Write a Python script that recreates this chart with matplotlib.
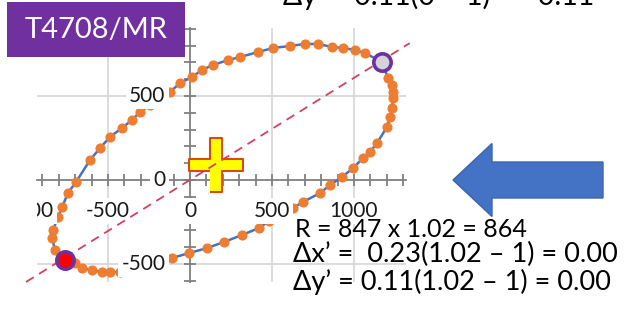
import matplotlib
matplotlib.use("Agg")
import matplotlib.pyplot as plt
from matplotlib.ticker import MultipleLocator
from matplotlib.patches import FancyArrow, Rectangle

plt.rcParams['font.family'] = ['Lato', 'DejaVu Sans']

# orbit points, clockwise from the lower-left extreme
orbit_x = [-762, -823, -841, -835, -805, -780, -744, -695, -610, -549, -488, -415,
           -354, -305, -244, -183, -122, -61, 12, 73, 140, 232, 305, 415, 506, 610,
           701, 780, 866, 933, 1006, 1067, 1171, 1207, 1232, 1238, 1238, 1232, 1220,
           1201, 1140, 1098, 1055, 994, 927, 854, 793, 689, 628, 555, 482, 420, 317,
           207, 104, -6, -110, -213, -317, -427, -488, -537, -598, -659, -701, -762]
orbit_y = [-476, -417, -345, -298, -220, -161, -77, -12, 119, 190, 256, 310,
           357, 405, 446, 482, 524, 577, 613, 655, 685, 714, 732, 762, 786, 798,
           810, 810, 792, 786, 774, 756, 702, 607, 565, 524, 488, 429, 375,
           315, 220, 167, 131, 71, 18, -30, -77, -131, -167, -202, -244, -286, -327,
           -369, -405, -435, -464, -488, -518, -548, -548, -548, -536, -524, -494, -476]

# extremes of the long axis
near_x, near_y = -762, -476
far_x, far_y = 1171, 702

# centre mark
centre_x, centre_y = 159, 92

# long-axis guide line
diag_x = [-1000, 1340]
diag_y = [-607, 815]

xtick_vals = [-1000, -500, 0, 500, 1000]
ytick_vals = [-500, 0, 500]

fig = plt.figure(figsize=(6.28, 3.22), dpi=100)
ax = fig.add_axes([37/628, 40/322, 369/628, 254/322])
ax.set_xlim(-933, 1317)
ax.set_ylim(-607, 905)
ax.patch.set_alpha(0)

# axes crossing at the origin, Excel style
for side in ['top', 'right']:
    ax.spines[side].set_visible(False)
ax.spines['left'].set_position('zero')
ax.spines['bottom'].set_position('zero')
for side in ['left', 'bottom']:
    ax.spines[side].set_color('#808080')
    ax.spines[side].set_linewidth(1.3)
ax.xaxis.set_major_locator(MultipleLocator(500))
ax.xaxis.set_minor_locator(MultipleLocator(100))
ax.yaxis.set_major_locator(MultipleLocator(500))
ax.yaxis.set_minor_locator(MultipleLocator(100))
ax.tick_params(which='both', direction='inout', length=8, width=1.3, color='#808080',
               labelbottom=False, labelleft=False)

for gx in [-500, 500, 1000]:
    ax.axvline(gx, color='#d9d9d9', lw=1.3, zorder=0)
for gy in [-500, 500]:
    ax.axhline(gy, color='#d9d9d9', lw=1.3, zorder=0)

ax.plot(orbit_x, orbit_y, color='#4472c4', lw=1.8, marker='o', ms=6.3,
        mfc='#ed7d31', mec='#ed7d31', zorder=3)

# tick labels on white boxes so they sit over the curve
lab_box = dict(boxstyle='square,pad=0.15', fc='white', ec='none')
for v in xtick_vals:
    ax.text(v, -186, str(v), ha='center', va='center', fontsize=15, color='#1a1a1a',
            bbox=lab_box, zorder=4, clip_on=True)
for v in ytick_vals:
    ax.text(-150, v, str(v), ha='right', va='center', fontsize=15, color='#1a1a1a',
            bbox=lab_box, zorder=4, clip_on=True)

plus = [(-0.21, -1), (0.21, -1), (0.21, -0.21), (1, -0.21), (1, 0.21), (0.21, 0.21),
        (0.21, 1), (-0.21, 1), (-0.21, 0.21), (-1, 0.21), (-1, -0.21), (-0.21, -0.21)]
ax.plot(centre_x, centre_y, marker=plus, ms=39, mfc='#ffff00', mec='#d9480f', mew=1.5,
        zorder=5)

ax.plot(diag_x, diag_y, color='#d6405e', lw=1.3, ls=(0, (5, 3.5)), zorder=6,
        clip_on=False)

ax.plot(far_x, far_y, marker='o', ms=12.5, mfc='#d5d3da', mec='#7030a0', mew=2.6, zorder=7)
ax.plot(near_x, near_y, marker='o', ms=12.5, mfc='#ff0000', mec='#7030a0', mew=2.6, zorder=7)

# title tag
fig.patches.append(Rectangle((7/628, 1 - 57/322), 178/628, 55/322, transform=fig.transFigure,
                             fc='#7030a0', ec='none', zorder=10))
fig.text(96/628, 1 - 30/322, 'T4708/MR', ha='center', va='center', fontsize=21,
         color='white', zorder=11)

# block arrow pointing at the chart
fig.patches.append(FancyArrow(603/628, 1 - 180/322, -150/628, 0, width=36/322,
                              head_width=73/322, head_length=39/628,
                              length_includes_head=True, transform=fig.transFigure,
                              fc='#4472c4', ec='#3b64ad', lw=1))

fig.text(283/628, 1 - 4.5/322, 'Δy’ = 0.11(0 – 1) = –0.11', ha='left', va='baseline',
         fontsize=20.5, color='black')
fig.text(295/628, 1 - 237/322, 'R = 847 x 1.02 = 864', ha='left', va='baseline',
         fontsize=18, color='black')
fig.text(293/628, 1 - 262/322, 'Δx’ =  0.23(1.02 – 1) = 0.00', ha='left', va='baseline',
         fontsize=19.5, color='black')
fig.text(293/628, 1 - 290/322, 'Δy’ = 0.11(1.02 – 1) = 0.00', ha='left', va='baseline',
         fontsize=19.5, color='black')

fig.savefig('out.png', dpi=100)
